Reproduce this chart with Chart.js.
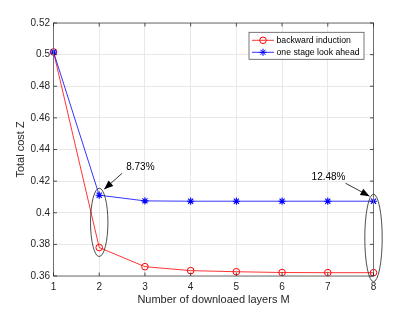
<!DOCTYPE html>
<html>
<head>
<meta charset="utf-8">
<script src="https://cdn.jsdelivr.net/npm/chart.js@4.4.1/dist/chart.umd.min.js"></script>
<style>
  html, body { margin: 0; padding: 0; background: #fff; }
  #wrap { width: 413px; height: 310px; }
</style>
</head>
<body>
<div id="wrap"><canvas id="chart" width="413" height="310"></canvas></div>
<script>
// values
const layers = [1, 2, 3, 4, 5, 6, 7, 8]
const backwardInduction = [0.5017, 0.378, 0.3659, 0.3634, 0.3627, 0.3622, 0.3621, 0.3621]
const oneStageLookAhead = [0.5017, 0.4111, 0.4075, 0.4073, 0.4073, 0.4073, 0.4073, 0.4073]
const seriesNames = ['backward induction', 'one stage look ahead']
const yTicks = [0.36, 0.38, 0.4, 0.42, 0.44, 0.46, 0.48, 0.5, 0.52]
const gainLayers = [2, 8]
const gainLabels = ['8.73%', '12.48%']

const FONT = '"Liberation Sans", Arial, Helvetica, sans-serif'
const AXIS_COLOR = '#262626'
const GRID_COLOR = '#e8e8e8'
const TICK_LEN = 3.5

// box around the axes + inward ticks on all four sides (matlab style)
const axesBox = {
  id: 'axesBox',
  afterDraw: (chart) => {
    const ctx = chart.ctx
    const a = chart.chartArea
    const xs = chart.scales.x
    const ys = chart.scales.y
    ctx.save()
    ctx.strokeStyle = '#6e6e6e'
    ctx.lineWidth = 1
    ctx.strokeRect(a.left, a.top, a.right - a.left, a.bottom - a.top)
    ctx.strokeStyle = AXIS_COLOR
    ctx.lineWidth = 0.8
    ctx.beginPath()
    layers.forEach(v => {
      const px = xs.getPixelForValue(v)
      ctx.moveTo(px, a.bottom); ctx.lineTo(px, a.bottom - TICK_LEN)
      ctx.moveTo(px, a.top); ctx.lineTo(px, a.top + TICK_LEN)
    })
    yTicks.forEach(v => {
      const py = ys.getPixelForValue(v)
      ctx.moveTo(a.left, py); ctx.lineTo(a.left + TICK_LEN, py)
      ctx.moveTo(a.right, py); ctx.lineTo(a.right - TICK_LEN, py)
    })
    ctx.stroke()
    ctx.restore()
  }
}

// ellipses round the gap + arrow and percentage text
const gapNotes = {
  id: 'gapNotes',
  afterDraw: (chart) => {
    const ctx = chart.ctx
    const xs = chart.scales.x
    const ys = chart.scales.y
    ctx.save()
    gainLayers.forEach((g, n) => {
      const i = layers.indexOf(g)
      const cx = xs.getPixelForValue(g)
      const top = ys.getPixelForValue(oneStageLookAhead[i]) - 7
      const bottom = ys.getPixelForValue(backwardInduction[i]) + 9
      ctx.strokeStyle = '#222'
      ctx.lineWidth = 0.8
      ctx.beginPath()
      ctx.ellipse(cx, (top + bottom) / 2, 8.7, (bottom - top) / 2, 0, 0, Math.PI * 2)
      ctx.stroke()

      // arrow goes to the right unless we're at the last layer
      const side = g === layers[layers.length - 1] ? -1 : 1
      const hx = side > 0 ? cx + 5 : cx - 4
      const hy = side > 0 ? top + 1 : top + 2
      const tx = side > 0 ? hx + 18 : hx - 24
      const ty = side > 0 ? hy - 16 : hy - 13
      ctx.strokeStyle = '#000'
      ctx.lineWidth = 0.8
      ctx.beginPath()
      ctx.moveTo(tx, ty)
      ctx.lineTo(hx, hy)
      ctx.stroke()
      const ang = Math.atan2(hy - ty, hx - tx)
      const L = 9, W = 3.6
      ctx.fillStyle = '#000'
      ctx.beginPath()
      ctx.moveTo(hx, hy)
      ctx.lineTo(hx - L * Math.cos(ang) + W * Math.sin(ang), hy - L * Math.sin(ang) - W * Math.cos(ang))
      ctx.lineTo(hx - L * Math.cos(ang) - W * Math.sin(ang), hy - L * Math.sin(ang) + W * Math.cos(ang))
      ctx.closePath()
      ctx.fill()

      ctx.font = '10px ' + FONT
      ctx.textBaseline = 'middle'
      ctx.textAlign = side > 0 ? 'left' : 'right'
      ctx.fillText(gainLabels[n], side > 0 ? tx + 4 : tx, ty - 5.5)
    })
    ctx.restore()
  }
}

// legend drawn inside the axes, top right
const innerLegend = {
  id: 'innerLegend',
  afterDraw: (chart) => {
    const ctx = chart.ctx
    const a = chart.chartArea
    const x0 = a.right - 124.5, y0 = a.top + 9.3
    const w = 115, h = 27, rowH = 12
    ctx.save()
    ctx.fillStyle = '#fff'
    ctx.fillRect(x0, y0, w, h)
    ctx.strokeStyle = '#555'
    ctx.lineWidth = 0.8
    ctx.strokeRect(x0, y0, w, h)
    seriesNames.forEach((name, i) => {
      const ds = chart.data.datasets.find(d => d.label === name)
      const y = y0 + 8 + i * rowH
      ctx.strokeStyle = ds.borderColor
      ctx.lineWidth = ds.borderWidth
      ctx.beginPath()
      ctx.moveTo(x0 + 3, y)
      ctx.lineTo(x0 + 25, y)
      ctx.stroke()
      ctx.fillStyle = 'rgba(0,0,0,0)'
      ctx.lineWidth = 1
      Chart.helpers.drawPoint(ctx, {
        pointStyle: ds.pointStyle, radius: ds.pointRadius, borderWidth: 1, rotation: 0
      }, x0 + 14, y)
      ctx.fillStyle = '#000'
      ctx.font = '8.7px ' + FONT
      ctx.textAlign = 'left'
      ctx.textBaseline = 'middle'
      ctx.fillText(ds.label, x0 + 27.5, y + 0.5)
    })
    ctx.restore()
  }
}

const ctx = document.getElementById('chart')
new Chart(ctx, {
  type: 'line',
  data: {
    datasets: [
      {
        label: seriesNames[0],
        data: layers.map((l, i) => ({ x: l, y: backwardInduction[i] })),
        borderColor: '#ff0000',
        backgroundColor: 'rgba(0,0,0,0)',
        borderWidth: 0.8,
        pointStyle: 'circle',
        pointRadius: 3.3,
        pointBorderWidth: 1,
        order: 1,
        clip: false
      },
      {
        label: seriesNames[1],
        data: layers.map((l, i) => ({ x: l, y: oneStageLookAhead[i] })),
        borderColor: '#0000ff',
        backgroundColor: 'rgba(0,0,0,0)',
        borderWidth: 0.8,
        pointStyle: 'star',
        pointRadius: 3.6,
        pointBorderWidth: 1.1,
        order: 0,
        clip: false
      }
    ]
  },
  options: {
    responsive: false,
    animation: false,
    devicePixelRatio: 1,
    layout: { padding: { left: 0, top: 23, right: 39.5, bottom: 0 } },
    plugins: {
      legend: { display: false },
      tooltip: { enabled: false }
    },
    scales: {
      x: {
        type: 'linear',
        min: 1,
        max: 8,
        afterBuildTicks: (s) => { s.ticks = layers.map(v => ({ value: v })) },
        afterFit: (s) => { s.height = 34 },
        grid: { color: GRID_COLOR, drawTicks: false, tickLength: 0 },
        border: { display: false },
        ticks: {
          padding: 5.5,
          maxRotation: 0,
          color: AXIS_COLOR,
          font: { family: FONT, size: 10 },
          callback: (v) => String(v)
        },
        title: {
          display: true,
          text: 'Number of downloaed layers M',
          color: AXIS_COLOR,
          font: { family: FONT, size: 11 },
          padding: { top: 0, bottom: 3.4 }
        }
      },
      y: {
        min: 0.36,
        max: 0.52,
        afterBuildTicks: (s) => { s.ticks = yTicks.map(v => ({ value: v })) },
        afterFit: (s) => { s.width = 53.5 },
        grid: { color: GRID_COLOR, drawTicks: false, tickLength: 0 },
        border: { display: false },
        ticks: {
          padding: 3.5,
          color: AXIS_COLOR,
          font: { family: FONT, size: 10 },
          callback: (v) => String(Number(v.toFixed(2)))
        },
        title: {
          display: true,
          text: 'Total cost Z',
          color: AXIS_COLOR,
          font: { family: FONT, size: 11 },
          padding: { top: 14, bottom: 0 }
        }
      }
    }
  },
  plugins: [axesBox, gapNotes, innerLegend]
})
</script>
</body>
</html>
